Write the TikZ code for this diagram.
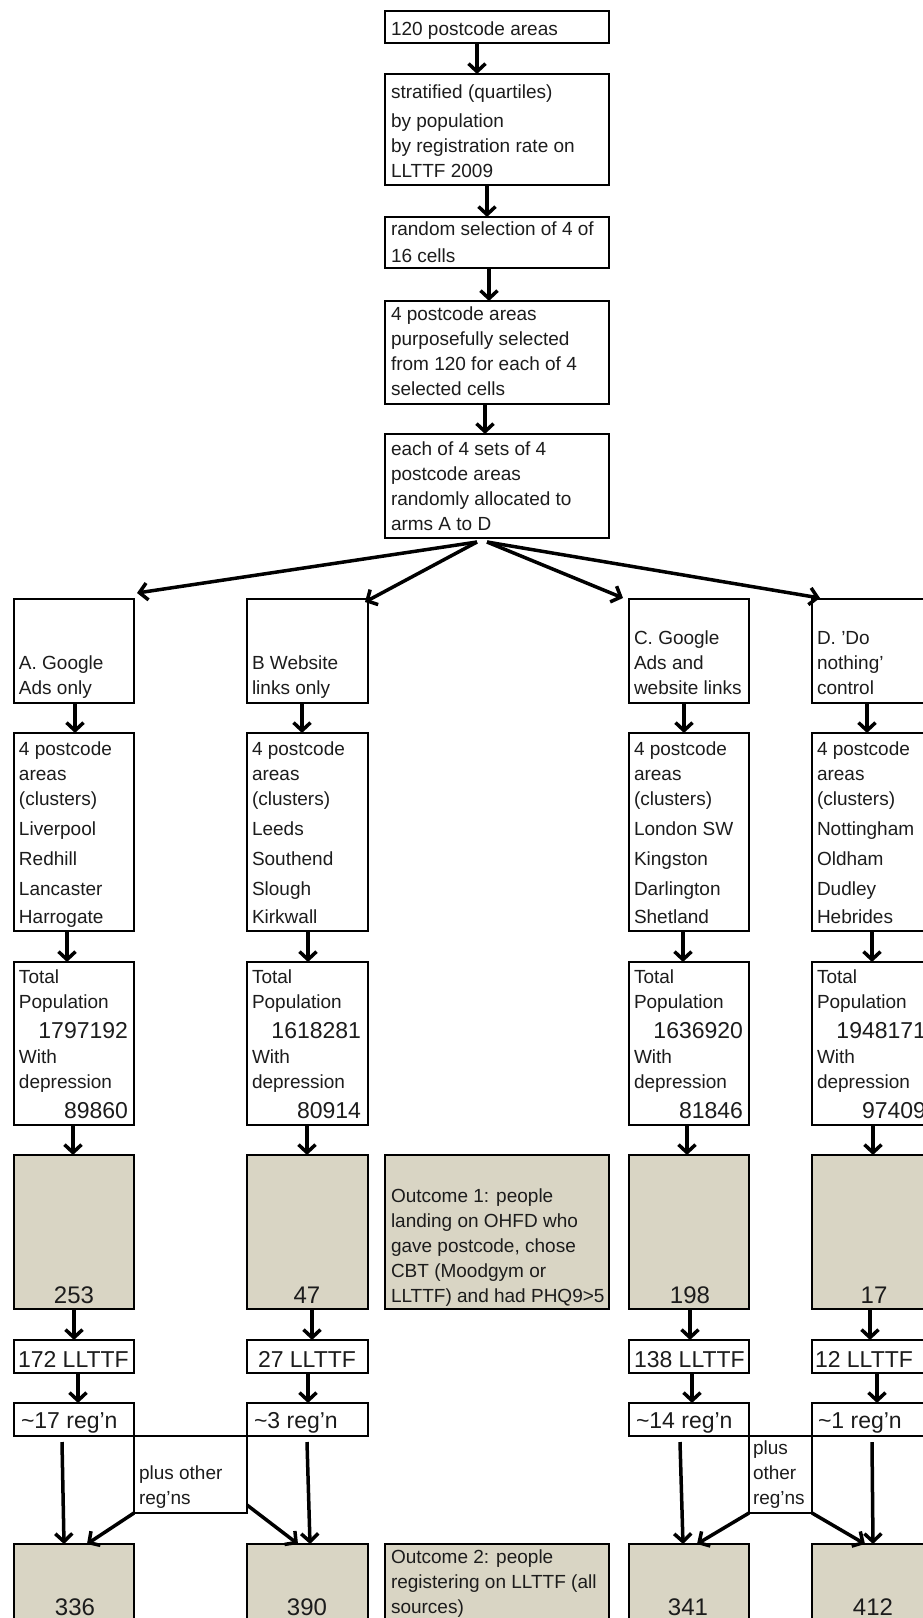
\documentclass[tikz,border=0pt]{standalone}
\usepackage{fontspec}
\setmainfont{Liberation Sans}
\usetikzlibrary{arrows.meta}
\definecolor{greyfill}{RGB}{217,213,196}
\definecolor{ink}{RGB}{28,28,28}
\tikzset{
  box/.style={draw=black, line width=2.8pt, fill=white, rectangle, inner sep=0pt, outer sep=0pt, anchor=north west},
  gbox/.style={box, fill=greyfill},
  pbox/.style={draw=black, line width=2.2pt, rectangle, inner sep=0pt, outer sep=0pt, anchor=north west},
  txt/.style={inner sep=0pt, outer sep=0pt, anchor=base west, align=left, text=ink, font=\fontsize{19}{25}\selectfont},
  bignum/.style={inner sep=0pt, outer sep=0pt, anchor=base east, text=ink, font=\fontsize{23}{27}\selectfont},
  cnum/.style={inner sep=0pt, outer sep=0pt, anchor=base, text=ink, font=\fontsize{24}{28}\selectfont},
  midtxt/.style={inner sep=0pt, outer sep=0pt, anchor=base west, text=ink, font=\fontsize{23}{27}\selectfont},
  arr/.style={line width=3.5pt, -{Straight Barb[length=8pt,width=17pt]}},
}
\begin{document}
\begin{tikzpicture}[x=1pt,y=-1pt]
\useasboundingbox (0,0) rectangle (923,1618);
\fill[white] (0,0) rectangle (923,1618);
\clip (0,0) rectangle (923,1618);

% plus boxes (drawn first)
\node[pbox, minimum width=113pt, minimum height=77pt] (PAB) at (134,1436) {};
\node[pbox, minimum width=63pt, minimum height=77pt] (PCD) at (749,1436) {};

% top column
\node[box, minimum width=224pt, minimum height=32pt] (T1) at (385,11) {};
\node[box, minimum width=224pt, minimum height=111pt] (T2) at (385,74) {};
\node[box, minimum width=224pt, minimum height=51pt] (T3) at (385,217) {};
\node[box, minimum width=224pt, minimum height=103pt] (T4) at (385,301) {};
\node[box, minimum width=224pt, minimum height=104pt] (T5) at (385,434) {};

% arm columns
\foreach \c/\x/\w in {A/14/120, B/247/121, C/629/120, D/812/120}{
  \node[box, minimum width=\w pt, minimum height=104pt] (\c1) at (\x,599) {};
  \node[box, minimum width=\w pt, minimum height=198pt] (\c2) at (\x,733) {};
  \node[box, minimum width=\w pt, minimum height=163pt] (\c3) at (\x,962) {};
  \node[gbox, minimum width=\w pt, minimum height=154pt] (\c4) at (\x,1155) {};
  \node[box, minimum width=\w pt, minimum height=33pt] (\c5) at (\x,1340) {};
  \node[box, minimum width=\w pt, minimum height=33pt] (\c6) at (\x,1403) {};
  \node[gbox, minimum width=\w pt, minimum height=110pt] (\c7) at (\x,1544) {};
}
\node[gbox, minimum width=224pt, minimum height=154pt] (O1) at (385,1155) {};
\node[gbox, minimum width=224pt, minimum height=110pt] (O2) at (385,1544) {};

% texts top (multi-line nodes are placed at the baseline of their last line)
\node[txt] (t1) at (391,35) {120 postcode areas};
\node[txt] (t2) at (391,177) {stratified (quartiles)\\[4pt]by population\\by registration rate on\\LLTTF 2009};
\node[txt] (t3) at (391,262) {random selection of 4 of\\[2pt]16 cells};
\node[txt] (t4) at (391,395) {4 postcode areas\\purposefully selected\\from 120 for each of 4\\selected cells};
\node[txt] (t5) at (391,530) {each of 4 sets of 4\\postcode areas\\randomly allocated to\\arms A to D};

% row 1
\node[txt] (a1t) at (19,694) {A. Google\\Ads only};
\node[txt] (b1t) at (252,694) {B Website\\links only};
\node[txt] (c1t) at (634,694) {C. Google\\Ads and\\website links};
\node[txt] (d1t) at (817,694) {D. 'Do\\nothing'\\control};

% row 2
\node[txt] (a2t) at (19,923) {4 postcode\\areas\\(clusters)\\[4.5pt]Liverpool\\[5pt]Redhill\\[5pt]Lancaster\\[3pt]Harrogate};
\node[txt] (b2t) at (252,923) {4 postcode\\areas\\(clusters)\\[4.5pt]Leeds\\[5pt]Southend\\[5pt]Slough\\[3pt]Kirkwall};
\node[txt] (c2t) at (634,923) {4 postcode\\areas\\(clusters)\\[4.5pt]London SW\\[5pt]Kingston\\[5pt]Darlington\\[3pt]Shetland};
\node[txt] (d2t) at (817,923) {4 postcode\\areas\\(clusters)\\[4.5pt]Nottingham\\[5pt]Oldham\\[5pt]Dudley\\[3pt]Hebrides};

% row 3
\foreach \c/\tx/\nx/\pa/\pb in {A/19/128/1797192/89860, B/252/361/1618281/80914, C/634/743/1636920/81846, D/817/926/1948171/97409}{
  \node[txt] (\c3a) at (\tx,1008) {Total\\Population};
  \node[bignum] (\c3b) at (\nx,1038) {\pa};
  \node[txt] (\c3c) at (\tx,1088) {With\\depression};
  \node[bignum] (\c3d) at (\nx,1118) {\pb};
}

% row 4 numbers
\node[cnum] (a4n) at (74,1303) {253};
\node[cnum] (b4n) at (307,1303) {47};
\node[cnum] (c4n) at (690,1303) {198};
\node[cnum] (d4n) at (874,1303) {17};

% outcome texts
\node[txt] (o1t) at (391,1302) {Outcome 1: people\\landing on OHFD who\\gave postcode, chose\\CBT (Moodgym or\\LLTTF) and had PHQ9>5};
\node[txt] (o2t) at (391,1613) {Outcome 2: people\\registering on LLTTF (all\\sources)};

% row 5, 6
\node[midtxt] (a5t) at (18,1367) {172 LLTTF};
\node[midtxt] (b5t) at (258,1367) {27 LLTTF};
\node[midtxt] (c5t) at (634,1367) {138 LLTTF};
\node[midtxt] (d5t) at (815,1367) {12 LLTTF};
\node[midtxt] (a6t) at (21,1428) {\textasciitilde17 reg'n};
\node[midtxt] (b6t) at (254,1428) {\textasciitilde3 reg'n};
\node[midtxt] (c6t) at (636,1428) {\textasciitilde14 reg'n};
\node[midtxt] (d6t) at (818,1428) {\textasciitilde1 reg'n};

% plus texts
\node[txt] (pabt) at (139,1504) {plus other\\reg'ns};
\node[txt] (pcdt) at (753,1504) {plus\\other\\reg'ns};

% row 7 numbers
\node[cnum] (a7n) at (75,1615) {336};
\node[cnum] (b7n) at (307,1615) {390};
\node[cnum] (c7n) at (688,1615) {341};
\node[cnum] (d7n) at (873,1615) {412};

% top arrows
\draw[arr] ([xshift=-20pt]T1.south) -- ([xshift=-20pt]T2.north);
\draw[arr] ([xshift=-10pt]T2.south) -- ([xshift=-10pt]T3.north);
\draw[arr] ([xshift=-8pt]T3.south) -- ([xshift=-8pt]T4.north);
\draw[arr] ([xshift=-12pt]T4.south) -- ([xshift=-12pt]T5.north);

% fan
\draw[arr] ([xshift=-20pt,yshift=-4pt]T5.south) -- ([xshift=3pt,yshift=6pt]A1.north east);
\draw[arr] ([xshift=-20pt,yshift=-4pt]T5.south) -- ([xshift=-3pt,yshift=-3pt]B1.north east);
\draw[arr] ([xshift=-10pt,yshift=-4pt]T5.south) -- ([xshift=-6pt,yshift=1pt]C1.north west);
\draw[arr] ([xshift=-10pt,yshift=-4pt]T5.south) -- ([xshift=8pt,yshift=1pt]D1.north west);

% column arrows
\foreach \c/\sa/\sb/\sc/\sd/\se in {A/1/-7/-1/0/4, B/-5.5/0.5/-0.5/4.5/0.5, C/-5/-6/-2/1/3, D/-5/0/1/-2/5}{
  \draw[arr] ([xshift=\sa pt]\c1.south) -- ([xshift=\sa pt]\c2.north);
  \draw[arr] ([xshift=\sb pt]\c2.south) -- ([xshift=\sb pt]\c3.north);
  \draw[arr] ([xshift=\sc pt]\c3.south) -- ([xshift=\sc pt]\c4.north);
  \draw[arr] ([xshift=\sd pt]\c4.south) -- ([xshift=\sd pt]\c5.north);
  \draw[arr] ([xshift=\se pt]\c5.south) -- ([xshift=\se pt]\c6.north);
}

% long arrows
\draw[arr] ([xshift=-12pt,yshift=-6pt]A6.south) -- ([xshift=-10pt]A7.north);
\draw[arr] ([xshift=-0.5pt,yshift=-6pt]B6.south) -- ([xshift=2.5pt]B7.north);
\draw[arr] ([xshift=-9pt,yshift=-6pt]C6.south) -- ([xshift=-6pt]C7.north);
\draw[arr] ([yshift=-6pt]D6.south) -- ([xshift=1pt]D7.north);

% plus arrows
\draw[arr] (PAB.south west) -- ([xshift=13pt]A7.north);
\draw[arr] ([yshift=8pt]PAB.south east) -- ([xshift=-9.5pt]B7.north);
\draw[arr] (PCD.south west) -- ([xshift=8pt]C7.north);
\draw[arr] (PCD.south east) -- ([xshift=-7pt]D7.north);
\end{tikzpicture}
\end{document}
